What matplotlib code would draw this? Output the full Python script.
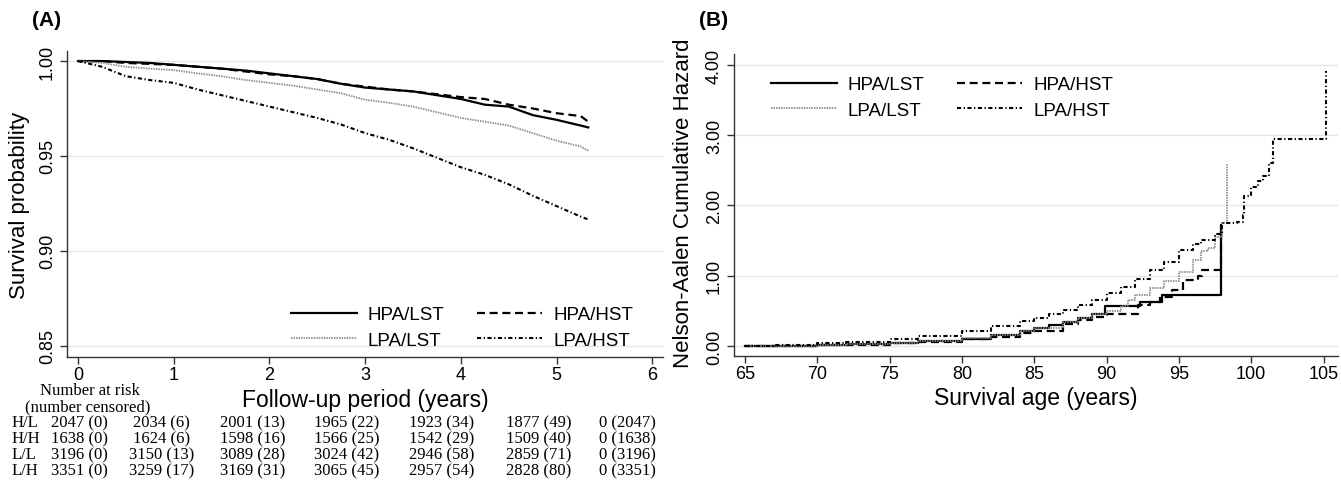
import matplotlib
matplotlib.use('Agg')
import matplotlib.pyplot as plt
from matplotlib.transforms import blended_transform_factory

plt.rcParams['font.family'] = ['Liberation Sans', 'DejaVu Sans']

# ---- panel A: Kaplan-Meier survival ----
years = [0, 0.25, 0.5, 0.75, 1.0, 1.25, 1.5, 1.75, 2.0, 2.25, 2.5, 2.75, 3.0,
         3.25, 3.5, 3.75, 4.0, 4.25, 4.5, 4.75, 5.0, 5.25, 5.33]
surv_hl = [1.000, 1.000, 0.9995, 0.999, 0.998, 0.997, 0.996, 0.995, 0.9935, 0.992,
           0.9905, 0.988, 0.986, 0.985, 0.984, 0.982, 0.980, 0.977, 0.976, 0.9715,
           0.969, 0.966, 0.965]
surv_hh = [1.000, 1.000, 0.999, 0.9985, 0.998, 0.997, 0.996, 0.9945, 0.993, 0.992,
           0.9905, 0.988, 0.9865, 0.985, 0.984, 0.9825, 0.981, 0.980, 0.977, 0.975,
           0.9725, 0.971, 0.968]
surv_ll = [1.000, 0.999, 0.997, 0.996, 0.9952, 0.9935, 0.992, 0.990, 0.9885, 0.987,
           0.985, 0.983, 0.9796, 0.978, 0.976, 0.973, 0.970, 0.968, 0.966, 0.962,
           0.958, 0.955, 0.9527]
surv_lh = [1.000, 0.997, 0.992, 0.990, 0.9885, 0.985, 0.982, 0.979, 0.976, 0.973,
           0.970, 0.9665, 0.962, 0.9585, 0.954, 0.949, 0.944, 0.940, 0.935, 0.929,
           0.9235, 0.918, 0.9165]

# number at risk table
risk_groups = ['H/L', 'H/H', 'L/L', 'L/H']
risk_table = [
    ['2047 (0)', '2034 (6)', '2001 (13)', '1965 (22)', '1923 (34)', '1877 (49)', '0 (2047)'],
    ['1638 (0)', '1624 (6)', '1598 (16)', '1566 (25)', '1542 (29)', '1509 (40)', '0 (1638)'],
    ['3196 (0)', '3150 (13)', '3089 (28)', '3024 (42)', '2946 (58)', '2859 (71)', '0 (3196)'],
    ['3351 (0)', '3259 (17)', '3169 (31)', '3065 (45)', '2957 (54)', '2828 (80)', '0 (3351)'],
]

# ---- panel B: Nelson-Aalen cumulative hazard ----
age_hl = [65, 67, 70, 72, 75, 77, 80, 82, 84, 85, 86, 87, 88, 89, 89.9, 92.3, 93.8, 97.9, 97.9]
haz_hl = [0, 0.005, 0.015, 0.025, 0.045, 0.065, 0.10, 0.15, 0.22, 0.26, 0.30, 0.34, 0.40,
          0.46, 0.57, 0.62, 0.72, 0.72, 1.72]
age_hh = [65, 67, 70, 72, 75, 77, 80, 82, 84, 85, 87, 88, 89, 90, 91, 92.2, 93, 93.7,
          94.5, 95.3, 96.3, 96.6, 97.9, 97.9]
haz_hh = [0, 0.004, 0.012, 0.02, 0.04, 0.06, 0.095, 0.13, 0.19, 0.22, 0.32, 0.37, 0.41,
          0.45, 0.46, 0.58, 0.63, 0.70, 0.80, 0.94, 0.99, 1.08, 1.08, 1.63]
age_ll = [65, 67, 70, 72, 75, 77, 80, 82, 84, 85, 87, 88, 89, 90, 91, 91.5, 92, 93, 94,
          95, 96, 96.5, 97, 97.5, 98.0, 98.3, 98.3]
haz_ll = [0, 0.006, 0.018, 0.03, 0.05, 0.07, 0.11, 0.16, 0.22, 0.26, 0.34, 0.40, 0.46,
          0.50, 0.57, 0.65, 0.72, 0.82, 0.92, 1.05, 1.22, 1.35, 1.40, 1.55, 1.75, 1.78, 2.59]
age_lh = [65, 67, 70, 72, 75, 77, 80, 82, 84, 85, 86, 87, 88, 89, 90, 91, 92, 93, 94, 95,
          96, 96.5, 97.5, 98, 99, 99.4, 99.5, 100, 100.5, 100.8, 101.2, 101.5, 105.2, 105.2]
haz_lh = [0, 0.015, 0.04, 0.06, 0.10, 0.14, 0.22, 0.28, 0.35, 0.40, 0.45, 0.51, 0.58,
          0.66, 0.75, 0.84, 0.95, 1.08, 1.20, 1.37, 1.45, 1.51, 1.60, 1.75, 1.77, 1.87,
          2.13, 2.27, 2.35, 2.42, 2.60, 2.94, 2.94, 3.92]

labels = ['HPA/LST', 'HPA/HST', 'LPA/LST', 'LPA/HST']
styles = [
    dict(color='black', lw=1.6, linestyle='-'),
    dict(color='black', lw=1.6, linestyle=(0, (3.6, 2.1))),
    dict(color='#8a8a8a', lw=1.3, linestyle=(0, (0.8, 0.6))),
    dict(color='black', lw=1.5, linestyle=(0, (2.0, 1.2, 0.6, 1.2))),
]
# legend is filled column by column, so this gives rows HPA/LST HPA/HST, LPA/LST LPA/HST
legend_order = [0, 2, 1, 3]

W, H = 1341, 481
fig = plt.figure(figsize=(W / 100, H / 100), dpi=100)


def px_rect(left, top, right, bottom):
    return [left / W, (H - bottom) / H, (right - left) / W, (bottom - top) / H]


def style_axes(ax):
    for s in ['top', 'right']:
        ax.spines[s].set_visible(False)
    for s in ['left', 'bottom']:
        ax.spines[s].set_color('#333333')
        ax.spines[s].set_linewidth(1.0)
    ax.tick_params(axis='both', direction='out', length=5, width=1.0,
                   color='#333333', labelsize=13)
    ax.tick_params(axis='y', labelrotation=90, pad=3)
    ax.tick_params(axis='x', pad=1.5)
    for t in ax.get_yticklabels():
        t.set_va('center')
    ax.grid(axis='y', color='#e6e6e6', lw=1.0)
    ax.set_axisbelow(True)


def add_legend(ax, lines, x_px, y_px):
    hs = [lines[i] for i in legend_order]
    ls = [labels[i] for i in legend_order]
    ax.legend(hs, ls, ncol=2, loc='upper left', bbox_to_anchor=(x_px / W, (H - y_px) / H),
              bbox_transform=fig.transFigure, frameon=False, fontsize=13.5,
              handlelength=3.5, handletextpad=0.6, columnspacing=1.7,
              labelspacing=0.45, borderpad=0, borderaxespad=0)


# panel A
axA = fig.add_axes(px_rect(67, 52, 663, 358))
linesA = []
for vals, lab, st in zip([surv_hl, surv_hh, surv_ll, surv_lh], labels, styles):
    linesA += axA.plot(years, vals, label=lab, **st)
axA.set_xlim(-0.115, 6.11)
axA.set_ylim(0.844, 1.0053)
axA.set_xticks(range(0, 7))
axA.set_yticks([0.85, 0.90, 0.95, 1.00])
axA.set_yticklabels(['0.85', '0.90', '0.95', '1.00'])
style_axes(axA)
axA.set_ylabel('Survival probability', fontsize=16)
axA.yaxis.set_label_coords(-0.062, 0.50)
axA.set_xlabel('Follow-up period (years)', fontsize=16.5)
axA.xaxis.set_label_coords(0.5, -0.10)
add_legend(axA, linesA, 291, 307)
fig.text(47 / W, (H - 21) / H, '(A)', fontsize=15, fontweight='bold',
         ha='center', va='center')

# number at risk table
serif = ['Liberation Serif', 'DejaVu Serif']
fig.text(90 / W, (H - 391) / H, 'Number at risk', family=serif, fontsize=12,
         ha='center', va='center')
fig.text(88 / W, (H - 407) / H, '(number censored)', family=serif, fontsize=12,
         ha='center', va='center')
tr = blended_transform_factory(axA.transData, fig.transFigure)
col_x = [0.02, 0.87, 1.82, 2.81, 3.80, 4.81, 5.74]
row_y = [423, 439, 455, 471]
for grp, row, yy in zip(risk_groups, risk_table, row_y):
    fig.text(12 / W, (H - yy) / H, grp, family=serif, fontsize=12, ha='left', va='center')
    for cx, cell in zip(col_x, row):
        axA.text(cx, (H - yy) / H, cell, transform=tr, family=serif, fontsize=12,
                 ha='center', va='center', clip_on=False)

# panel B
axB = fig.add_axes(px_rect(734, 55, 1338, 357))
linesB = []
for a, h, lab, st in zip([age_hl, age_hh, age_ll, age_lh], [haz_hl, haz_hh, haz_ll, haz_lh],
                         labels, styles):
    linesB += axB.plot(a, h, label=lab, drawstyle='steps-post', **st)
axB.set_xlim(64.25, 106.0)
axB.set_ylim(-0.142, 4.156)
axB.set_xticks(range(65, 106, 5))
axB.set_yticks([0, 1, 2, 3, 4])
axB.set_yticklabels(['0.00', '1.00', '2.00', '3.00', '4.00'])
style_axes(axB)
axB.set_ylabel('Nelson-Aalen Cumulative Hazard', fontsize=16)
axB.yaxis.set_label_coords(-0.066, 0.51)
axB.set_xlabel('Survival age (years)', fontsize=16.5)
axB.xaxis.set_label_coords(0.5, -0.10)
add_legend(axB, linesB, 771, 77)
fig.text(714 / W, (H - 21) / H, '(B)', fontsize=15, fontweight='bold',
         ha='center', va='center')

fig.savefig('out.png', dpi=100)
